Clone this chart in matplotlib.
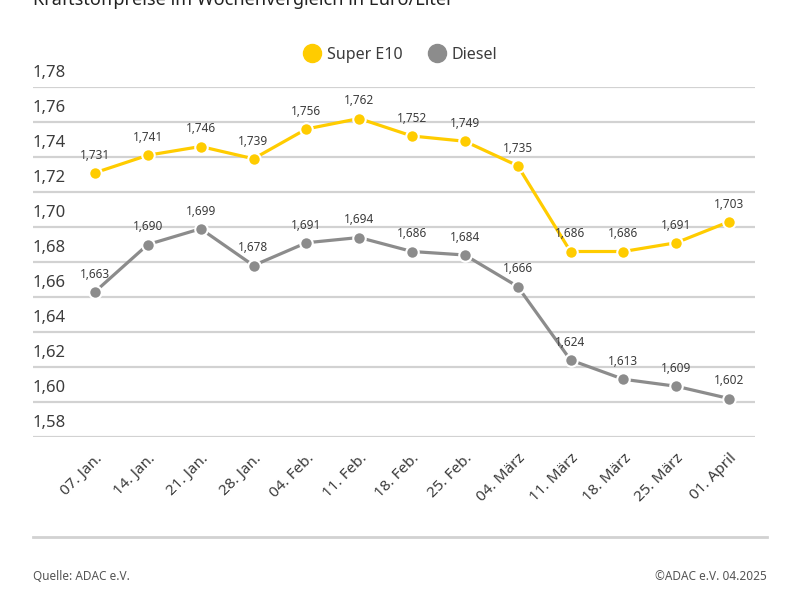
import matplotlib
matplotlib.use("Agg")
from matplotlib import pyplot as plt
from matplotlib.lines import Line2D

# Weekly fuel prices, Euro/Liter
weeks = ["07. Jan.", "14. Jan.", "21. Jan.", "28. Jan.", "04. Feb.", "11. Feb.",
         "18. Feb.", "25. Feb.", "04. März", "11. März", "18. März", "25. März", "01. April"]
super_e10 = [1.731, 1.741, 1.746, 1.739, 1.756, 1.762, 1.752, 1.749, 1.735,
             1.686, 1.686, 1.691, 1.703]
diesel = [1.663, 1.690, 1.699, 1.678, 1.691, 1.694, 1.686, 1.684, 1.666,
          1.624, 1.613, 1.609, 1.602]
y_ticks = [1.58, 1.60, 1.62, 1.64, 1.66, 1.68, 1.70, 1.72, 1.74, 1.76, 1.78]

YELLOW = "#FFCC00"
GREY = "#8C8C8C"
GRID = "#D2D2D2"
TEXT = "#3C3C3C"

plt.rcParams["font.family"] = ["Noto Sans", "DejaVu Sans"]

fig = plt.figure(figsize=(8, 6), dpi=100)
ax = fig.add_axes([33 / 800, 1 - 437 / 600, (755 - 33) / 800, (437 - 87) / 600])

x = list(range(len(weeks)))
step = (729 - 95) / 12
ax.set_xlim(-(95 - 33) / step, 12 + (755 - 729) / step)
ax.set_ylim(1.58, 1.78)

# gridlines with labels sitting above them
for yv in y_ticks:
    ax.axhline(yv, color=GRID, lw=1.6, zorder=1)
    ax.text(0, yv + 0.0035, f"{yv:.2f}".replace(".", ","), transform=ax.get_yaxis_transform(),
            ha="left", va="bottom", fontsize=12, color=TEXT)

for vals, col in [(super_e10, YELLOW), (diesel, GREY)]:
    ax.plot(x, vals, color=col, lw=2.3, zorder=3, solid_capstyle="round")
    ax.plot(x, vals, "o", color=col, ms=9, mec="white", mew=1.5, zorder=4)
    for xi, v in zip(x, vals):
        ax.annotate(f"{v:.3f}".replace(".", ","), (xi, v), xytext=(0, 8),
                    textcoords="offset points", ha="center", va="bottom",
                    fontsize=8.5, color=TEXT, zorder=5)

ax.set_xticks(x)
ax.set_xticklabels(weeks, rotation=45, ha="right", rotation_mode="anchor",
                   fontsize=11, color=TEXT)
ax.tick_params(axis="x", length=0, pad=10)
ax.set_yticks([])
for s in ax.spines.values():
    s.set_visible(False)

# legend
ax.plot([], [], "o", color=YELLOW, ms=13, label="Super E10")
ax.plot([], [], "o", color=GREY, ms=13, label="Diesel")
fig.legend(loc="center", bbox_to_anchor=(0.5, 1 - 55 / 600), ncol=2, frameon=False,
           fontsize=11.5, handletextpad=0.3, columnspacing=1.6, handlelength=1.2,
           labelcolor=TEXT)

# cut-off title at the top
fig.text(33 / 800, 1.0, "Kraftstoffpreise im Wochenvergleich in Euro/Liter",
         ha="left", va="center", fontsize=13, fontweight="bold", color="#222222")

fig.add_artist(Line2D([33 / 800, 767 / 800], [1 - 537 / 600] * 2, color=GRID, lw=2))
fig.text(33 / 800, 1 - 577 / 600, "Quelle: ADAC e.V.", ha="left", va="center",
         fontsize=8.5, color="#555555")
fig.text(767 / 800, 1 - 577 / 600, "©ADAC e.V. 04.2025", ha="right", va="center",
         fontsize=8.5, color="#555555")

fig.savefig("out.png", dpi=100)
